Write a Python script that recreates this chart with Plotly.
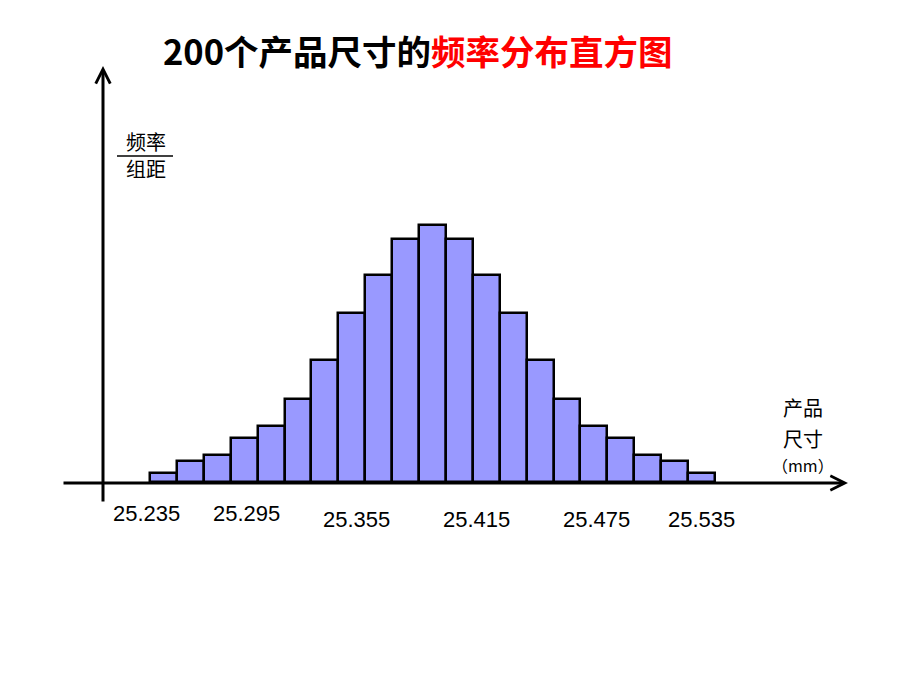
import plotly.graph_objects as go

# ---- data ----
bin_start = 25.235
bin_width = 0.3 / 21
density = [0.28, 0.66, 0.85, 1.39, 1.77, 2.62, 3.85, 5.33, 6.53, 7.67, 8.11,
           7.67, 6.53, 5.33, 3.85, 2.62, 1.77, 1.39, 0.85, 0.66, 0.28]
tick_labels = ["25.235", "25.295", "25.355", "25.415", "25.475", "25.535"]
tick_label_x = [25.2334, 25.2860, 25.3444, 25.4086, 25.4723, 25.5280]
tick_label_row = [0, 0, 1, 1, 1, 1]

W, H = 920, 690
# pixel calibration
X0_PX = 150.0          # pixel of bin_start
PX_PER_MM = 565.0 / 0.3
Y0_PX = 482.0          # baseline pixel
PX_PER_UNIT = 31.7

x_lo = bin_start - X0_PX / PX_PER_MM
x_hi = x_lo + W / PX_PER_MM
y_lo = -(H - Y0_PX) / PX_PER_UNIT
y_hi = Y0_PX / PX_PER_UNIT

def px(xp):
    return xp / W

def py(yp):
    return 1 - yp / H

centers = [bin_start + (i + 0.5) * bin_width for i in range(len(density))]

fig = go.Figure()
fig.add_trace(go.Bar(
    x=centers, y=density, width=bin_width,
    marker=dict(color="#9999FF", line=dict(color="black", width=2.5)),
    hoverinfo="skip",
))

ann = []
# axes with arrows
ann.append(dict(x=px(848), y=py(483), xref="paper", yref="paper",
                ax=-(848 - 62), ay=0, axref="pixel", ayref="pixel",
                text="", showarrow=True, arrowhead=5, arrowsize=0.95,
                arrowwidth=3, arrowcolor="black", standoff=0, startstandoff=0))
ann.append(dict(x=px(103), y=py(66), xref="paper", yref="paper",
                ax=0, ay=(503 - 66), axref="pixel", ayref="pixel",
                text="", showarrow=True, arrowhead=5, arrowsize=0.95,
                arrowwidth=3, arrowcolor="black", standoff=0, startstandoff=0))

# tick labels
row_y = [513, 519]
for lab, xv, r in zip(tick_labels, tick_label_x, tick_label_row):
    ann.append(dict(x=xv, y=py(row_y[r]), xref="x", yref="paper",
                    text=lab, showarrow=False, xanchor="center", yanchor="middle",
                    font=dict(family="Liberation Sans, Arial", size=22, color="black")))

cjk = "Noto Sans CJK SC"
# title
ann.append(dict(x=px(418), y=py(50), xref="paper", yref="paper", showarrow=False,
                text="<b>200个产品尺寸的<span style='color:#FF0000'>频率分布直方图</span></b>",
                xanchor="center", yanchor="middle",
                font=dict(family=cjk, size=34.5, color="black")))
# y label
ann.append(dict(x=px(146), y=py(142), xref="paper", yref="paper", showarrow=False,
                text="频率", xanchor="center", yanchor="middle",
                font=dict(family=cjk, size=20, color="black")))
ann.append(dict(x=px(146), y=py(168), xref="paper", yref="paper", showarrow=False,
                text="组距", xanchor="center", yanchor="middle",
                font=dict(family=cjk, size=20, color="black")))
# x label
for t, yy in [("产品", 407), ("尺寸", 438), ("（mm）", 465)]:
    ann.append(dict(x=px(803), y=py(yy), xref="paper", yref="paper", showarrow=False,
                    text=t, xanchor="center", yanchor="middle",
                    font=dict(family=cjk, size=20 if t != "（mm）" else 16, color="black")))

shapes = [dict(type="line", xref="paper", yref="paper",
               x0=px(117), x1=px(173), y0=py(156), y1=py(156),
               line=dict(color="black", width=1.5))]

fig.update_layout(
    width=W, height=H, autosize=False,
    margin=dict(l=0, r=0, t=0, b=0),
    paper_bgcolor="white", plot_bgcolor="white",
    showlegend=False, bargap=0,
    xaxis=dict(range=[x_lo, x_hi], visible=False, fixedrange=True),
    yaxis=dict(range=[y_lo, y_hi], visible=False, fixedrange=True),
    annotations=ann, shapes=shapes,
)

fig.write_html("out.html")
